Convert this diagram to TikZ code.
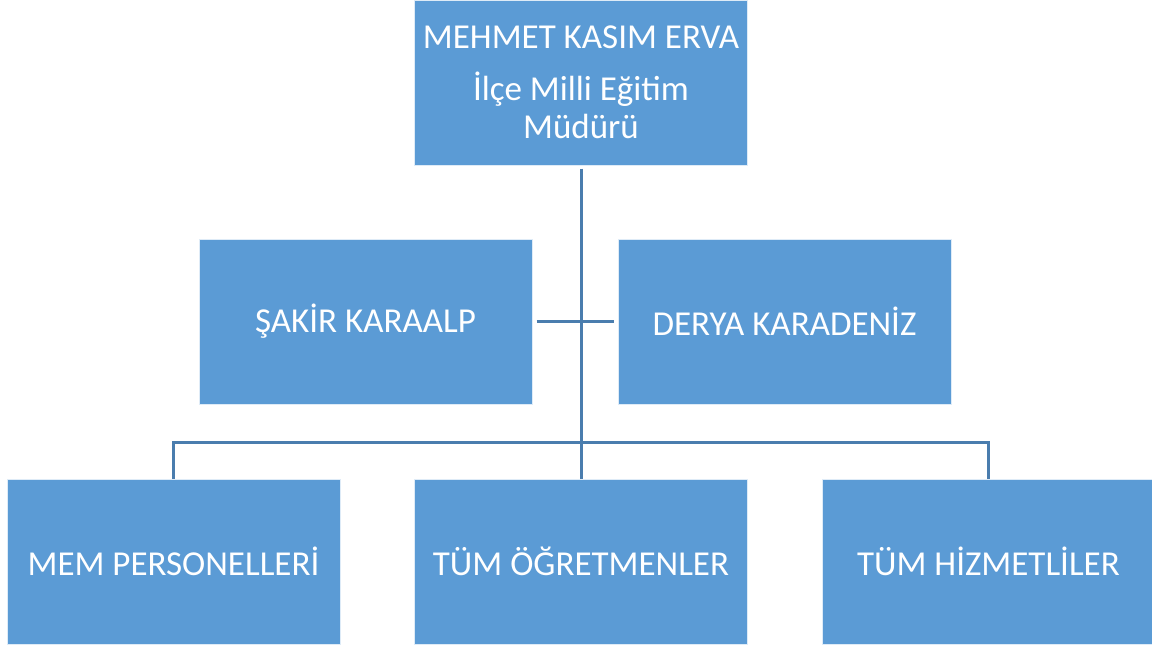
\documentclass[tikz,border=0pt]{standalone}
\usepackage{fontspec}
\setmainfont{Carlito}
\usetikzlibrary{positioning}
\definecolor{boxblue}{HTML}{5B9BD5}
\definecolor{lineblue}{HTML}{4A7DAE}
\tikzset{unitbox/.style={draw=white!80!boxblue,line width=1pt,fill=boxblue,text=white,
    minimum width=333pt,minimum height=165pt,inner sep=0pt,align=center,
    font=\fontsize{35}{38}\selectfont}}
\tikzset{link/.style={draw=lineblue,line width=3pt}}

\begin{document}
\begin{tikzpicture}[x=1pt,y=-1pt]
        \useasboundingbox (0,0) rectangle (1152,648);
        \node[unitbox] (mudur) at (581,82.5) {MEHMET KASIM ERVA\\[14pt]İlçe Milli Eğitim\\Müdürü};
        \node[unitbox] (sakir) at (365.5,321.5) {ŞAKİR KARAALP};
        \node[unitbox] (derya) at (784.5,321.5) {DERYA KARADENİZ};
        \node[unitbox] (mem) at (173.5,561.5) {MEM PERSONELLERİ};
        \node[unitbox] (ogrt) at (581,561.5) {TÜM ÖĞRETMENLER};
        \node[unitbox] (hizm) at (988.5,561.5) {TÜM HİZMETLİLER};
        \coordinate (bus) at (581,442);
        \draw[link] ([yshift=-3pt]mudur.south) -- (ogrt.north);
        \draw[link] ([xshift=4pt]sakir.east) -- ([xshift=-4pt]derya.west);
        \draw[link] (mem.north) |- (bus) -| (hizm.north);
\end{tikzpicture}
\end{document}
